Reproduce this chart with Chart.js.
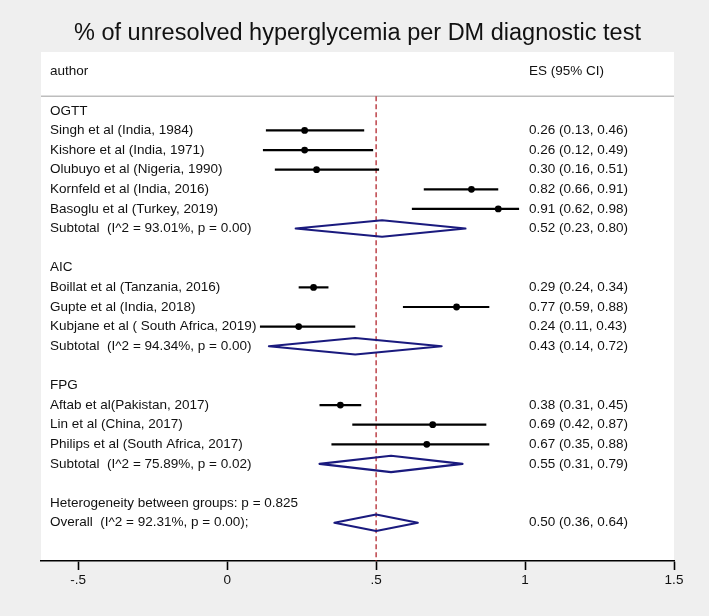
<!DOCTYPE html>
<html>
<head>
<meta charset="utf-8">
<script src="https://cdn.jsdelivr.net/npm/chart.js@4/dist/chart.umd.min.js"></script>
<style>
  html, body { margin: 0; padding: 0; background: #efefef; }
  canvas { display: block; }
</style>
</head>
<body>
<canvas id="c" width="709" height="616"></canvas>
<script>
// ---------------- DATA ----------------
const chartTitle = '% of unresolved hyperglycemia per DM diagnostic test';
const headerLeft = 'author';
const headerRight = 'ES (95% CI)';

const groupNames = ['OGTT', 'AIC', 'FPG'];

const studyNames = [
  'Singh et al (India, 1984)',
  'Kishore et al (India, 1971)',
  'Olubuyo et al (Nigeria, 1990)',
  'Kornfeld et al (India, 2016)',
  'Basoglu et al (Turkey, 2019)',
  'Boillat et al (Tanzania, 2016)',
  'Gupte et al (India, 2018)',
  'Kubjane et al ( South Africa, 2019)',
  'Aftab et al(Pakistan, 2017)',
  'Lin et al (China, 2017)',
  'Philips et al (South Africa, 2017)'
];
const studyGroup = [0, 0, 0, 0, 0, 1, 1, 1, 2, 2, 2];
const studyES    = [0.26, 0.26, 0.30, 0.82, 0.91, 0.29, 0.77, 0.24, 0.38, 0.69, 0.67];
const studyLow   = [0.13, 0.12, 0.16, 0.66, 0.62, 0.24, 0.59, 0.11, 0.31, 0.42, 0.35];
const studyHigh  = [0.46, 0.49, 0.51, 0.91, 0.98, 0.34, 0.88, 0.43, 0.45, 0.87, 0.88];

const subtotalLabels = [
  'Subtotal  (I^2 = 93.01%, p = 0.00)',
  'Subtotal  (I^2 = 94.34%, p = 0.00)',
  'Subtotal  (I^2 = 75.89%, p = 0.02)'
];
const subtotalES   = [0.52, 0.43, 0.55];
const subtotalLow  = [0.23, 0.14, 0.31];
const subtotalHigh = [0.80, 0.72, 0.79];

const heterogeneityText = 'Heterogeneity between groups: p = 0.825';
const overallLabel = 'Overall  (I^2 = 92.31%, p = 0.00);';
const overallES = [0.50];
const overallLow = [0.36];
const overallHigh = [0.64];

const nullValue = 0.5;
const xTickValues = [-0.5, 0, 0.5, 1, 1.5];
const xTickLabels = ['-.5', '0', '.5', '1', '1.5'];

// ---------------- ROW LAYOUT (derived) ----------------
const rows = [];
groupNames.forEach((g, gi) => {
  rows.push({ label: g, kind: 'group' });
  studyNames.forEach((n, i) => {
    if (studyGroup[i] === gi) rows.push({ label: n, es: studyES[i], lo: studyLow[i], hi: studyHigh[i], kind: 'study' });
  });
  rows.push({ label: subtotalLabels[gi], es: subtotalES[gi], lo: subtotalLow[gi], hi: subtotalHigh[gi], kind: 'diamond' });
  rows.push({ label: '', kind: 'blank' });
});
rows.push({ label: heterogeneityText, kind: 'text' });
rows.push({ label: overallLabel, es: overallES[0], lo: overallLow[0], hi: overallHigh[0], kind: 'diamond' });
rows.forEach((r, i) => r.row = i);

const HEADER_ROW = -2;
const HEADER_LINE = -0.75;
const Y_MIN = -3, Y_MAX = 22.95;
const DIAMOND_HALF = 0.42;

const datasets = [];
datasets.push({
  type: 'scatter',
  data: rows.filter(r => r.kind === 'study').map(r => ({ x: r.es, y: r.row })),
  pointRadius: 3.4, pointBackgroundColor: '#000', pointBorderColor: '#000', pointBorderWidth: 0,
  order: 0
});
rows.filter(r => r.kind === 'study').forEach(r => {
  datasets.push({
    type: 'line',
    data: [{ x: r.lo, y: r.row }, { x: r.hi, y: r.row }],
    borderColor: '#000', borderWidth: 2.2, pointRadius: 0, fill: false, order: 1
  });
});
rows.filter(r => r.kind === 'diamond').forEach(r => {
  datasets.push({
    type: 'line',
    data: [
      { x: r.lo, y: r.row }, { x: r.es, y: r.row - DIAMOND_HALF },
      { x: r.hi, y: r.row }, { x: r.es, y: r.row + DIAMOND_HALF }, { x: r.lo, y: r.row }
    ],
    borderColor: '#1a1a7e', borderWidth: 2.1, pointRadius: 0, fill: false, tension: 0,
    borderJoinStyle: 'round', borderCapStyle: 'round', order: 2
  });
});
datasets.push({
  type: 'line',
  data: [{ x: nullValue, y: HEADER_LINE }, { x: nullValue, y: Y_MAX }],
  borderColor: '#b3262e', borderWidth: 1.3, borderDash: [5, 3], pointRadius: 0, order: 3
});

const FONT = '"Liberation Sans", Arial, Helvetica, sans-serif';

const decor = {
  id: 'decor',
  beforeDraw(chart) {
    const { ctx, chartArea: a, scales } = chart;
    ctx.save();
    ctx.fillStyle = '#efefef';
    ctx.fillRect(0, 0, chart.width, chart.height);
    ctx.fillStyle = '#ffffff';
    ctx.fillRect(a.left, a.top, a.right - a.left, a.bottom - a.top);
    const yl = scales.y.getPixelForValue(HEADER_LINE);
    ctx.strokeStyle = '#bdbdbd';
    ctx.lineWidth = 1.5;
    ctx.beginPath(); ctx.moveTo(a.left, yl); ctx.lineTo(a.right, yl); ctx.stroke();
    ctx.fillStyle = '#111';
    ctx.font = '23.5px ' + FONT;
    ctx.textAlign = 'center';
    ctx.textBaseline = 'middle';
    ctx.fillText(chartTitle, (a.left + a.right) / 2, 34);
    ctx.restore();
  },
  afterDatasetsDraw(chart) {
    const { ctx, chartArea: a, scales } = chart;
    const y = scales.y;
    ctx.save();
    ctx.fillStyle = '#111';
    ctx.font = '13.5px ' + FONT;
    ctx.textBaseline = 'middle';
    ctx.textAlign = 'left';
    const xl = a.left + 9, xr = 529;
    ctx.fillText(headerLeft, xl, y.getPixelForValue(HEADER_ROW));
    ctx.fillText(headerRight, xr, y.getPixelForValue(HEADER_ROW));
    rows.forEach(r => {
      const py = y.getPixelForValue(r.row);
      if (r.label) ctx.fillText(r.label, xl, py);
      if (r.es !== undefined) {
        ctx.fillText(r.es.toFixed(2) + ' (' + r.lo.toFixed(2) + ', ' + r.hi.toFixed(2) + ')', xr, py);
      }
    });
    ctx.restore();
  }
};

new Chart(document.getElementById('c'), {
  type: 'scatter',
  data: { datasets },
  options: {
    responsive: false,
    animation: false,
    devicePixelRatio: 1,
    layout: { padding: { left: 41, right: 35, top: 52, bottom: 0 } },
    plugins: { legend: { display: false }, tooltip: { enabled: false } },
    scales: {
      x: {
        type: 'linear', min: -0.625, max: 1.5,
        afterBuildTicks: s => { s.ticks = xTickValues.map(v => ({ value: v })); },
        afterFit: s => { s.height = 55; },
        border: { display: true, color: '#000', width: 1.6 },
        grid: { display: true, drawOnChartArea: false, drawTicks: true, tickLength: 9, tickColor: '#000', tickWidth: 1.6 },
        ticks: {
          padding: 2, color: '#111', maxRotation: 0, autoSkip: false,
          font: { family: FONT, size: 13.5 },
          callback: (v) => { const i = xTickValues.indexOf(v); return i >= 0 ? xTickLabels[i] : ''; }
        }
      },
      y: { type: 'linear', reverse: true, min: Y_MIN, max: Y_MAX, display: false }
    }
  },
  plugins: [decor]
});
</script>
</body>
</html>
